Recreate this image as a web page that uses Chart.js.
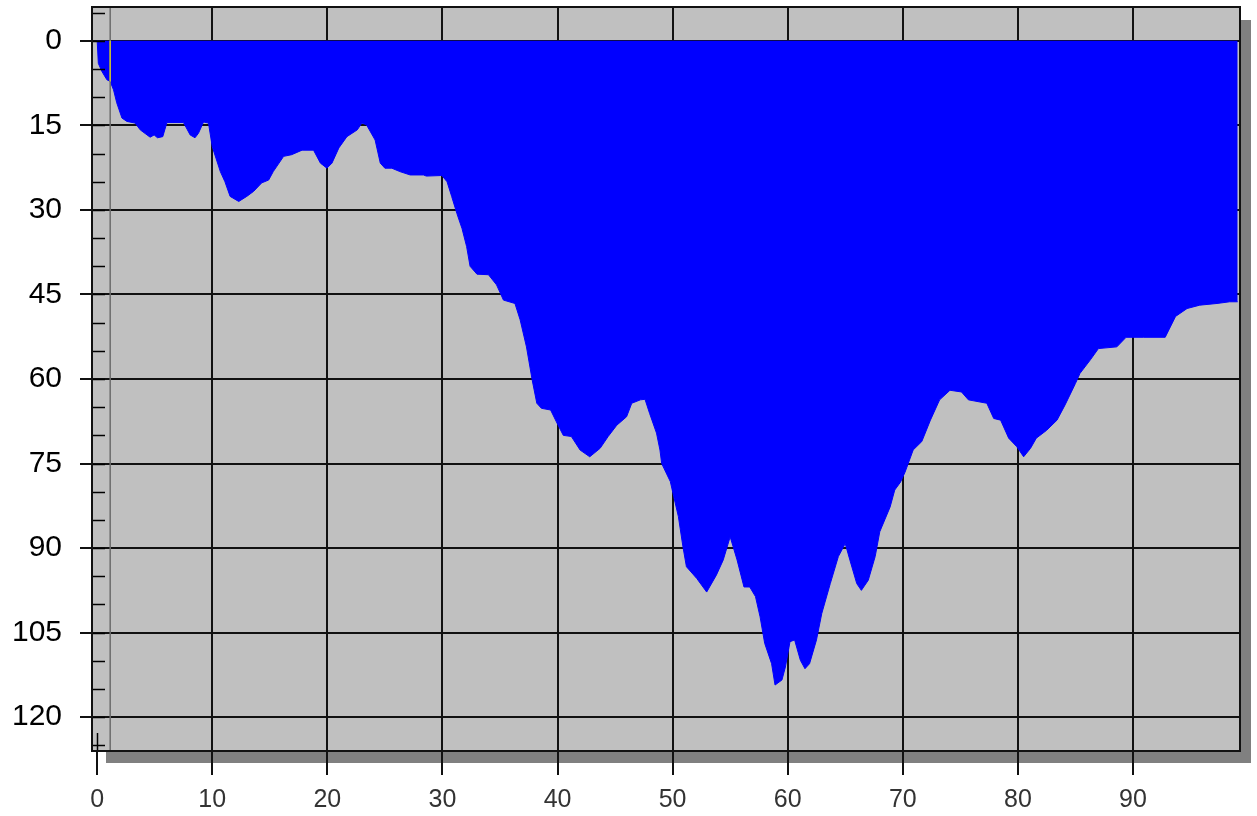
<!DOCTYPE html>
<html>
<head>
<meta charset="utf-8">
<script src="https://cdn.jsdelivr.net/npm/chart.js@4/dist/chart.umd.min.js"></script>
<style>
html,body{margin:0;padding:0;background:#fff;}
canvas{display:block;}
</style>
</head>
<body>
<canvas id="c" width="1257" height="816"></canvas>
<script>
// ---- data ----
const distance = [0.0,0.1,0.4,0.84,1.13,1.42,1.7,2.15,2.58,3.3,3.74,4.6,4.95,5.24,5.7,6.06,7.5,8.08,8.5,8.8,9.24,9.67,10.0,10.7,11.1,11.55,12.3,13.0,13.6,14.3,14.9,15.3,16.2,16.9,17.8,18.8,19.4,19.96,20.4,21.0,21.7,22.6,23.0,23.4,24.15,24.6,25.0,25.6,26.3,27.2,28.35,28.6,29.95,30.4,30.8,31.25,31.7,32.1,32.4,33.0,34.0,34.7,35.3,36.3,36.75,37.3,37.8,38.2,38.6,39.4,39.9,40.5,41.2,41.96,42.8,43.7,44.4,45.15,46.0,46.45,47.2,47.6,48.0,48.6,48.9,49.05,49.8,50.1,50.5,50.9,51.2,52.1,52.96,53.8,54.4,55.0,55.6,56.2,56.7,57.2,57.6,58.0,58.6,58.9,59.5,59.8,60.2,60.6,61.1,61.5,61.9,62.5,62.96,63.7,64.4,65.0,65.4,66.0,66.4,67.0,67.6,68.0,68.9,69.3,69.8,70.2,70.9,71.65,72.4,73.2,74.1,75.1,75.7,77.3,77.9,78.5,79.2,79.9,80.5,81.1,81.6,82.5,83.4,84.1,85.0,85.4,86.3,87.0,88.6,89.4,90.9,92.8,93.7,94.7,95.8,97.3,98.4,99.1];
const depth = [0,4,5.4,6.9,7.2,8.7,11,13.7,14.3,14.6,15.8,17.1,16.7,17.2,17.0,14.5,14.5,16.7,17.2,16.4,14.4,14.6,18.8,23.2,25,27.6,28.5,27.6,26.7,25.2,24.7,23.2,20.5,20.2,19.4,19.4,21.7,22.6,21.7,19,17,15.8,14.6,14.9,17.6,21.7,22.6,22.6,23.2,23.8,23.8,24,23.9,25,27.6,30.6,33.3,36.5,40,41.4,41.5,43.3,46,46.6,49.5,54.3,60.2,64.3,65.2,65.5,67.6,70,70.2,72.6,73.8,72.3,70.2,68.2,66.7,64.3,63.7,63.6,66.1,69.6,72.6,75,78.2,80.9,84.4,89.8,93.3,95.4,97.8,94.8,92.1,88,92.1,96.9,96.9,98.6,102.2,106.9,110.5,114.3,113.4,111.1,106.6,106.3,109.9,111.4,110.5,106.3,101.6,96.3,91.5,89.2,92.1,96.3,97.5,95.7,91.5,87.1,82.7,79.7,78.3,76.5,72.6,71.1,67.3,63.7,62,62.3,63.7,64.3,67,67.3,70.5,72,73.8,72.3,70.5,69.1,67.3,64.6,60.8,59,56.6,54.6,54.3,52.6,52.6,52.6,48.9,47.5,46.9,46.6,46.3,46.3];
const xTicks = [0,10,20,30,40,50,60,70,80,90];
const yTicks = [0,15,30,45,60,75,90,105,120];
const yMinorTicks = [-5,0,5,10,15,20,25,30,35,40,45,50,55,60,65,70,75,80,85,90,95,100,105,110,115,120,125];
const xRange = [-0.45, 99.3];
const yRange = [-6, 126];
const stationX = 1.13;       // vertical marker line
const stationDepth = 7.2;    // depth at marker

const profile = distance.map((x,i)=>({x:x, y:depth[i]}));

function zeroPad(s){ s.paddingTop=0; s.paddingBottom=0; s.paddingLeft=0; s.paddingRight=0; }

const decor = {
  id:'decor',
  beforeDraw(chart){
    const {ctx, chartArea:a} = chart;
    ctx.save();
    ctx.fillStyle = '#808080';
    ctx.fillRect(a.left+14, a.top+13, a.right-a.left-3, a.bottom-a.top-1);
    ctx.fillStyle = '#C0C0C0';
    ctx.fillRect(a.left, a.top, a.right-a.left, a.bottom-a.top);
    ctx.restore();
  },
  afterDraw(chart){
    const {ctx, chartArea:a, scales} = chart;
    ctx.save();
    ctx.strokeStyle = '#000';
    ctx.lineWidth = 1.5;
    ctx.beginPath();
    yMinorTicks.forEach(v=>{
      const y = Math.round(scales.y.getPixelForValue(v))+0.5;
      ctx.moveTo(a.left, y); ctx.lineTo(a.left+13, y);
    });
    const x0 = Math.round(scales.x.getPixelForValue(0))+0.5;
    ctx.moveTo(x0, a.bottom-18); ctx.lineTo(x0, a.bottom);
    ctx.stroke();
    ctx.lineWidth = 2;
    ctx.strokeStyle = '#111';
    ctx.strokeRect(a.left, a.top, a.right-a.left, a.bottom-a.top);
    ctx.restore();
  }
};

new Chart(document.getElementById('c'), {
  type:'line',
  data:{
    datasets:[
      {data:[{x:stationX,y:0},{x:stationX,y:stationDepth}], borderColor:'#c8c038', borderWidth:1.5, pointRadius:0, fill:false, order:1},
      {data:[{x:stationX,y:yRange[0]},{x:stationX,y:yRange[1]}], borderColor:'#6c6c6c', borderWidth:1.5, pointRadius:0, fill:false, order:2},
      {data:profile, borderColor:'#0000FF', backgroundColor:'#0000FF', borderWidth:1, pointRadius:0, tension:0, fill:{value:0}, order:3}
    ]
  },
  options:{
    responsive:false,
    animation:false,
    events:[],
    layout:{padding:{top:7,right:17,left:0,bottom:0}},
    plugins:{legend:{display:false}, tooltip:{enabled:false}},
    scales:{
      x:{
        type:'linear', min:xRange[0], max:xRange[1], z:1,
        afterBuildTicks(s){ s.ticks = xTicks.map(v=>({value:v})); },
        afterFit(s){ s.height = 65; zeroPad(s); },
        grid:{
          color:(c)=> (c.tick && c.tick.value===0) ? 'rgba(0,0,0,0)' : '#111',
          tickColor:'#111', lineWidth:2, tickLength:24
        },
        border:{display:false},
        ticks:{font:{family:'"Liberation Sans", Arial, sans-serif', size:25}, color:'#333', padding:10, maxRotation:0, autoSkip:false}
      },
      y:{
        type:'linear', reverse:true, min:yRange[0], max:yRange[1], z:1,
        afterBuildTicks(s){ s.ticks = yTicks.map(v=>({value:v})); },
        afterFit(s){ s.width = 92; zeroPad(s); },
        grid:{color:'#111', tickColor:'#111', lineWidth:2, tickLength:12},
        border:{display:false},
        ticks:{font:{family:'"Liberation Sans", Arial, sans-serif', size:30}, color:'#000', padding:18, autoSkip:false}
      }
    }
  },
  plugins:[decor]
});
</script>
</body>
</html>
